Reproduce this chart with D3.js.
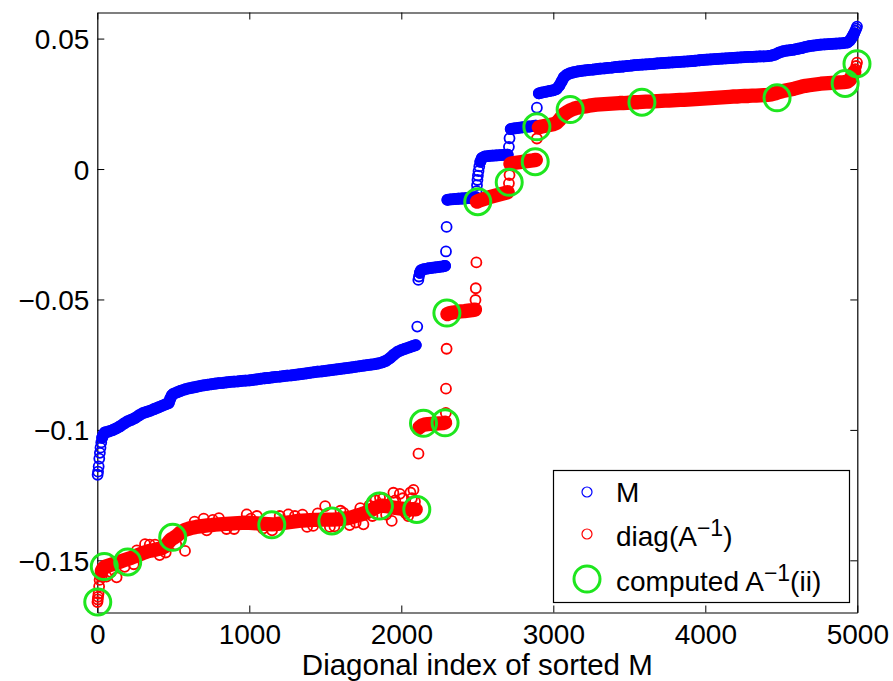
<!DOCTYPE html>
<html lang="en">
<head>
<meta charset="UTF-8">
<title>Diagonal index of sorted M</title>
<script src="https://d3js.org/d3.v7.min.js"></script>
<style>
  body { margin: 0; background: #fff; }
  svg { display: block; font-family: "Liberation Sans", Arial, Helvetica, sans-serif; }
</style>
</head>
<body>
<svg id="chart" width="893" height="681"></svg>
<script>
// M (sorted), pairs of [diagonal index, value]
const mSeries = [
  [2,-0.1172],[5,-0.1160],[9,-0.1140],[13,-0.1110],[17,-0.1088],[21,-0.1068],[26,-0.1048],[32,-0.1030],[40,-0.1018],[50,-0.1010],
  [75,-0.1006],[100,-0.1001],[125,-0.0994],[150,-0.0986],[175,-0.0976],[200,-0.0967],[225,-0.0961],[250,-0.0954],[275,-0.0944],
  [300,-0.0936],[325,-0.0931],[350,-0.0926],[375,-0.0920],[400,-0.0914],[425,-0.0908],[450,-0.0902],[470,-0.0897],[480,-0.0880],[490,-0.0868],
  [500,-0.0862],[525,-0.0856],[550,-0.0850],[575,-0.0845],[600,-0.0841],[625,-0.0838],[650,-0.0835],[675,-0.0832],[700,-0.0829],
  [725,-0.0827],[750,-0.0825],[775,-0.0823],[800,-0.0821],[825,-0.0820],[850,-0.0818],[875,-0.0816],[900,-0.0815],[925,-0.0814],
  [950,-0.0812],[975,-0.0811],[1000,-0.0810],[1025,-0.0808],[1050,-0.0806],[1075,-0.0804],[1100,-0.0802],[1125,-0.0801],[1150,-0.0799],
  [1175,-0.0797],[1200,-0.0796],[1225,-0.0794],[1250,-0.0792],[1275,-0.0791],[1300,-0.0789],[1325,-0.0787],[1350,-0.0785],[1375,-0.0783],
  [1400,-0.0781],[1425,-0.0779],[1450,-0.0777],[1475,-0.0776],[1500,-0.0774],[1525,-0.0772],[1550,-0.0770],[1575,-0.0768],[1600,-0.0766],
  [1625,-0.0764],[1650,-0.0762],[1675,-0.0760],[1700,-0.0758],[1725,-0.0756],[1750,-0.0754],[1775,-0.0752],[1800,-0.0750],[1825,-0.0748],
  [1850,-0.0745],[1875,-0.0741],[1900,-0.0735],[1925,-0.0725],[1950,-0.0712],[1975,-0.0701],[2000,-0.0694],[2025,-0.0689],[2050,-0.0684],
  [2075,-0.0679],[2095,-0.0675],
  [2105,-0.0604],
  [2112,-0.0425],[2116,-0.0412],[2122,-0.0398],[2130,-0.0388],[2150,-0.0384],[2175,-0.0381],[2200,-0.0379],[2225,-0.0377],[2250,-0.0375],
  [2275,-0.0373],[2288,-0.0371],
  [2294,-0.0316],[2298,-0.0222],
  [2303,-0.0118],[2325,-0.0116],[2350,-0.0115],[2375,-0.0114],[2400,-0.0113],[2425,-0.0112],[2450,-0.0111],[2475,-0.0109],[2490,-0.0108],
  [2495,-0.0085],[2498,-0.0062],[2501,-0.0042],[2504,-0.0025],[2508,-0.0008],[2513,0.0010],[2520,0.0028],
  [2530,0.0042],[2550,0.0048],[2575,0.0050],[2600,0.0051],[2625,0.0052],[2650,0.0053],[2675,0.0054],[2700,0.0055],
  [2708,0.0085],[2712,0.0118],
  [2720,0.0153],[2745,0.0156],[2770,0.0158],[2795,0.0160],[2820,0.0162],[2845,0.0163],[2870,0.0165],[2885,0.0166],
  [2892,0.0235],
  [2905,0.0290],[2925,0.0293],[2950,0.0296],[2975,0.0299],[3000,0.0302],[3020,0.0306],
  [3040,0.0320],[3055,0.0336],[3070,0.0352],[3090,0.0362],
  [3110,0.0367],[3135,0.0371],[3160,0.0374],[3185,0.0376],[3210,0.0378],[3235,0.0380],[3260,0.0381],[3285,0.0383],[3310,0.0385],
  [3335,0.0386],[3360,0.0388],[3385,0.0389],[3410,0.0391],[3435,0.0392],[3460,0.0393],[3485,0.0395],[3510,0.0396],[3535,0.0398],
  [3560,0.0399],[3585,0.0400],[3610,0.0401],[3635,0.0402],[3660,0.0403],[3685,0.0405],[3710,0.0406],[3735,0.0407],[3760,0.0408],
  [3785,0.0409],[3810,0.0410],[3835,0.0411],[3860,0.0412],[3885,0.0413],[3910,0.0414],[3935,0.0415],[3960,0.0417],[3985,0.0418],
  [4010,0.0419],[4035,0.0420],[4060,0.0421],[4085,0.0422],[4110,0.0423],[4135,0.0424],[4160,0.0425],[4185,0.0426],[4210,0.0427],
  [4235,0.0428],[4260,0.0429],[4285,0.0430],[4310,0.0430],[4335,0.0431],[4360,0.0432],[4385,0.0432],[4410,0.0433],[4435,0.0435],
  [4460,0.0439],[4485,0.0446],[4510,0.0451],[4535,0.0454],[4560,0.0456],[4585,0.0458],[4610,0.0461],[4635,0.0464],[4660,0.0468],
  [4685,0.0471],[4710,0.0473],[4735,0.0475],[4760,0.0477],[4785,0.0478],[4810,0.0479],[4835,0.0480],[4860,0.0481],[4885,0.0482],
  [4910,0.0483],[4935,0.0485],[4950,0.0492],[4962,0.0502],[4972,0.0512],[4980,0.0521],[4987,0.0530],[4993,0.0538],[4998,0.0546]
];

// diag(A^-1), same index order: the main trend
const diagSeries = [
  [1,-0.1660],[3,-0.1650],[5,-0.1640],[8,-0.1628],[12,-0.1600],[15,-0.1575],[19,-0.1560],[24,-0.1548],[30,-0.1540],[40,-0.1530],[50,-0.1525],
  [75,-0.1520],[100,-0.1515],[125,-0.1510],[150,-0.1505],[175,-0.1500],[200,-0.1495],[225,-0.1490],[250,-0.1484],[275,-0.1478],
  [300,-0.1472],[325,-0.1467],[350,-0.1463],[375,-0.1460],[400,-0.1457],[425,-0.1453],[450,-0.1445],[470,-0.1430],[485,-0.1420],
  [500,-0.1415],[525,-0.1405],[550,-0.1392],[575,-0.1384],[600,-0.1379],[625,-0.1375],[650,-0.1372],[675,-0.1370],[700,-0.1368],
  [725,-0.1366],[750,-0.1365],[775,-0.1363],[800,-0.1362],[825,-0.1361],[850,-0.1360],[875,-0.1359],[900,-0.1358],[925,-0.1357],
  [950,-0.1356],[975,-0.1356],[1000,-0.1356],[1025,-0.1357],[1050,-0.1358],[1075,-0.1359],[1100,-0.1360],[1125,-0.1361],[1150,-0.1362],
  [1175,-0.1361],[1200,-0.1359],[1225,-0.1357],[1250,-0.1355],[1275,-0.1353],[1300,-0.1351],[1325,-0.1349],[1350,-0.1348],[1375,-0.1347],
  [1400,-0.1346],[1425,-0.1345],[1450,-0.1345],[1475,-0.1344],[1500,-0.1344],[1525,-0.1344],[1550,-0.1344],[1575,-0.1343],[1600,-0.1342],
  [1625,-0.1340],[1650,-0.1338],[1675,-0.1335],[1700,-0.1330],[1725,-0.1326],[1750,-0.1321],[1775,-0.1315],[1800,-0.1308],[1825,-0.1300],
  [1850,-0.1293],[1875,-0.1290],[1900,-0.1292],[1925,-0.1295],[1950,-0.1298],[1975,-0.1300],[2000,-0.1302],[2025,-0.1304],[2050,-0.1305],
  [2075,-0.1305],[2095,-0.1305],
  [2113,-0.1091],
  [2110,-0.1000],[2120,-0.0990],[2135,-0.0983],[2150,-0.0980],[2175,-0.0978],[2200,-0.0977],[2225,-0.0976],[2250,-0.0975],[2275,-0.0974],
  [2288,-0.0972],[2293,-0.0935],
  [2294,-0.0842],[2298,-0.0689],
  [2303,-0.0556],[2315,-0.0553],[2340,-0.0550],[2365,-0.0548],[2390,-0.0546],[2415,-0.0545],[2440,-0.0543],[2465,-0.0541],[2485,-0.0539],
  [2488,-0.0502],[2490,-0.0457],[2494,-0.0358],
  [2498,-0.0125],[2510,-0.0122],[2530,-0.0118],[2555,-0.0113],[2580,-0.0108],[2605,-0.0104],[2630,-0.0100],[2655,-0.0096],[2680,-0.0092],
  [2700,-0.0089],
  [2708,-0.0055],[2712,-0.0023],
  [2718,0.0020],[2740,0.0023],[2765,0.0025],[2790,0.0027],[2815,0.0029],[2840,0.0031],[2865,0.0033],[2885,0.0035],
  [2892,0.0117],
  [2905,0.0160],[2925,0.0163],[2950,0.0166],[2975,0.0169],[3000,0.0172],[3020,0.0176],
  [3040,0.0188],[3055,0.0200],[3070,0.0210],[3090,0.0218],[3110,0.0225],[3135,0.0231],[3160,0.0235],[3185,0.0238],[3210,0.0240],
  [3235,0.0243],[3260,0.0245],[3285,0.0247],[3310,0.0248],[3335,0.0249],[3360,0.0250],[3385,0.0251],[3410,0.0252],[3435,0.0253],
  [3460,0.0253],[3485,0.0254],[3510,0.0255],[3535,0.0256],[3560,0.0256],[3585,0.0257],[3610,0.0258],[3635,0.0258],[3660,0.0259],
  [3685,0.0260],[3710,0.0261],[3735,0.0262],[3760,0.0262],[3785,0.0263],[3810,0.0264],[3835,0.0265],[3860,0.0265],[3885,0.0266],
  [3910,0.0267],[3935,0.0268],[3960,0.0269],[3985,0.0270],[4010,0.0271],[4035,0.0272],[4060,0.0273],[4085,0.0274],[4110,0.0275],
  [4135,0.0276],[4160,0.0277],[4185,0.0278],[4210,0.0278],[4235,0.0279],[4260,0.0280],[4285,0.0280],[4310,0.0281],[4335,0.0281],
  [4360,0.0282],[4385,0.0283],[4410,0.0284],[4435,0.0286],[4460,0.0290],[4485,0.0295],[4510,0.0299],[4535,0.0302],[4560,0.0305],
  [4585,0.0308],[4610,0.0312],[4635,0.0316],[4660,0.0319],[4685,0.0321],[4710,0.0323],[4735,0.0325],[4760,0.0327],[4785,0.0328],
  [4810,0.0329],[4835,0.0330],[4860,0.0331],[4885,0.0332],[4910,0.0333],[4935,0.0335],[4950,0.0342],[4962,0.0352],[4972,0.0362],
  [4980,0.0372],[4987,0.0383],[4993,0.0395],[4998,0.0408]
];

// diag(A^-1): points scattered off the trend
const diagScatter = [
  [30,-0.1560],[60,-0.1562],[90,-0.1545],[127,-0.1565],[180,-0.1525],[240,-0.1515],[260,-0.1462],[314,-0.1438],[345,-0.1440],
  [380,-0.1440],[410,-0.1480],[450,-0.1470],[520,-0.1440],[577,-0.1464],[640,-0.1352],[700,-0.1340],[720,-0.1385],[760,-0.1345],
  [800,-0.1338],[850,-0.1380],[900,-0.1380],[983,-0.1324],[1010,-0.1340],[1050,-0.1330],[1090,-0.1378],[1150,-0.1385],[1200,-0.1330],
  [1257,-0.1324],[1300,-0.1330],[1350,-0.1325],[1380,-0.1372],[1420,-0.1368],[1450,-0.1320],[1499,-0.1292],[1530,-0.1372],[1560,-0.1370],
  [1600,-0.1310],[1620,-0.1318],[1660,-0.1365],[1700,-0.1355],[1730,-0.1300],[1751,-0.1362],[1790,-0.1290],[1810,-0.1330],[1830,-0.1270],
  [1860,-0.1260],[1880,-0.1262],[1900,-0.1325],[1937,-0.1349],[1948,-0.1241],[1960,-0.1270],[1990,-0.1245],[2010,-0.1262],[2030,-0.1320],
  [2045,-0.1330],[2060,-0.1240],[2070,-0.1262],[2080,-0.1230],[2090,-0.1275]
];

// computed A^-1(ii) at sampled indices
const computedSeries = [
  [3,-0.1660],[46,-0.1524],[200,-0.1506],[496,-0.1412],[1148,-0.1364],[1543,-0.1349],[1856,-0.1292],[2102,-0.1305],
  [2146,-0.0975],[2288,-0.0973],[2300,-0.0552],[2503,-0.0125],[2710,-0.0051],[2881,0.0028],[2892,0.0162],[3111,0.0228],
  [3583,0.0256],[4472,0.0273],[4920,0.0328],[4998,0.0404]
];

const xTicks = [0, 1000, 2000, 3000, 4000, 5000];
const yTicks = [-0.15, -0.1, -0.05, 0, 0.05];
const yTickLabels = ["\u22120.15", "\u22120.1", "\u22120.05", "0", "0.05"];

const svg = d3.select("#chart");
const plotLeft = 97.3, plotRight = 857.3, plotTop = 12.5, plotBottom = 612.5;

const x = d3.scaleLinear().domain([0, 5000]).range([plotLeft, plotRight]);
const y = d3.scaleLinear().domain([-0.17, 0.06]).range([plotBottom, plotTop]);

const fontSize = 28;
const markerR = 5, markerW = 1.8;

// axes (MATLAB box with inward ticks on all sides)
const gx = svg.append("g")
  .attr("transform", `translate(0,${plotBottom})`)
  .call(d3.axisBottom(x).tickValues(xTicks).tickFormat(d3.format("d"))
    .tickSizeInner(-7).tickSizeOuter(0).tickPadding(12));
const gy = svg.append("g")
  .attr("transform", `translate(${plotLeft},0)`)
  .call(d3.axisLeft(y).tickValues(yTicks).tickFormat((d, i) => yTickLabels[i])
    .tickSizeInner(-7).tickSizeOuter(0).tickPadding(8));
const gt = svg.append("g")
  .attr("transform", `translate(0,${plotTop})`)
  .call(d3.axisTop(x).tickValues(xTicks).tickFormat("").tickSizeInner(-7).tickSizeOuter(0));
const gr = svg.append("g")
  .attr("transform", `translate(${plotRight},0)`)
  .call(d3.axisRight(y).tickValues(yTicks).tickFormat("").tickSizeInner(-7).tickSizeOuter(0));

[gx, gy, gt, gr].forEach(g => {
  g.select(".domain").attr("stroke", "#000").attr("stroke-width", 1.2);
  g.selectAll(".tick line").attr("stroke", "#000").attr("stroke-width", 1);
  g.selectAll("text").attr("font-size", fontSize).attr("font-family", "Liberation Sans, Arial, sans-serif").attr("fill", "#000");
});
gx.selectAll("text").attr("dy", "0.71em");
gy.selectAll("text").attr("dy", "0.36em");

// x label
svg.append("text")
  .attr("x", (plotLeft + plotRight) / 2)
  .attr("y", 675)
  .attr("text-anchor", "middle")
  .attr("font-size", 29.5)
  .text("Diagonal index of sorted M");

// thousands of overlapping markers make a solid band in the original;
// fill the gap between neighbouring markers of the same run
function bandRuns(points) {
  const pts = points.slice().sort((a, b) => a[0] - b[0]);
  const runs = [];
  let cur = [pts[0]];
  for (let i = 1; i < pts.length; i++) {
    const gap = pts[i][0] - pts[i - 1][0];
    const dy = Math.abs(y(pts[i][1]) - y(pts[i - 1][1]));
    if (gap >= 8 && gap <= 30 && dy <= 4.5) cur.push(pts[i]);
    else { runs.push(cur); cur = [pts[i]]; }
  }
  runs.push(cur);
  return runs.filter(r => r.length > 1);
}
const line = d3.line().x(d => x(d[0])).y(d => y(d[1]));

function drawSeries(points, color, bandWidth) {
  const g = svg.append("g");
  g.selectAll("path").data(bandRuns(points)).join("path")
    .attr("d", line).attr("fill", "none").attr("stroke", color)
    .attr("stroke-width", bandWidth).attr("stroke-linecap", "round").attr("stroke-linejoin", "round");
  g.selectAll("circle").data(points).join("circle")
    .attr("cx", d => x(d[0])).attr("cy", d => y(d[1])).attr("r", markerR)
    .attr("fill", "none").attr("stroke", color).attr("stroke-width", markerW);
  return g;
}

drawSeries(mSeries, "#0000ff", 2 * markerR + markerW);
// diag(A^-1) is noisier, so its overplotted band is a little wider
const gDiag = drawSeries(diagSeries, "#ff0000", 2 * markerR + markerW + 2.5);
gDiag.append("g").selectAll("circle").data(diagScatter).join("circle")
  .attr("cx", d => x(d[0])).attr("cy", d => y(d[1])).attr("r", markerR)
  .attr("fill", "none").attr("stroke", "#ff0000").attr("stroke-width", markerW);

svg.append("g").selectAll("circle").data(computedSeries).join("circle")
  .attr("cx", d => x(d[0])).attr("cy", d => y(d[1])).attr("r", 13)
  .attr("fill", "none").attr("stroke", "#1ee61e").attr("stroke-width", 3);

// legend
const legend = svg.append("g");
legend.append("rect")
  .attr("x", 553.5).attr("y", 470.5).attr("width", 296).attr("height", 132)
  .attr("fill", "#fff").attr("stroke", "#000").attr("stroke-width", 1.2);

const legendRows = [
  {cy: 492, base: 502, r: 5, stroke: "#0000ff", sw: 1.2},
  {cy: 534, base: 546, r: 5, stroke: "#ff0000", sw: 1.2},
  {cy: 579, base: 591, r: 13, stroke: "#1ee61e", sw: 3}
];
legendRows.forEach(row => {
  legend.append("circle").attr("cx", 587).attr("cy", row.cy).attr("r", row.r)
    .attr("fill", "none").attr("stroke", row.stroke).attr("stroke-width", row.sw);
});

const t1 = legend.append("text").attr("x", 616).attr("y", legendRows[0].base).attr("font-size", fontSize);
t1.text("M");

const t2 = legend.append("text").attr("x", 616).attr("y", legendRows[1].base).attr("font-size", fontSize);
t2.append("tspan").text("diag(A");
t2.append("tspan").attr("dy", -10).attr("font-size", 23).text("\u22121");
t2.append("tspan").attr("dy", 10).text(")");

const t3 = legend.append("text").attr("x", 616).attr("y", legendRows[2].base).attr("font-size", fontSize);
t3.append("tspan").text("computed A");
t3.append("tspan").attr("dy", -10).attr("font-size", 23).text("\u22121");
t3.append("tspan").attr("dy", 10).text("(ii)");
</script>
</body>
</html>
